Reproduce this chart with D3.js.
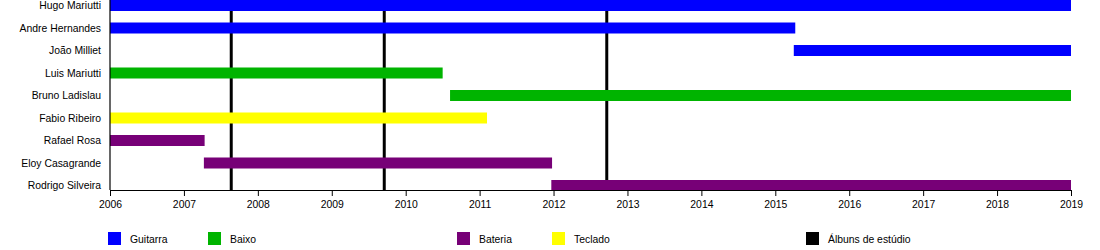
<!DOCTYPE html>
<html>
<head>
<meta charset="utf-8">
<script src="https://cdn.jsdelivr.net/npm/d3@7"></script>
<style>
  body { margin: 0; background: #fff; }
  text { font-family: "Liberation Sans", Arial, sans-serif; font-size: 10.4px; fill: #000; }
</style>
</head>
<body>
<div class="chart"></div>
<script>
const members = ['Hugo Mariutti', 'Andre Hernandes', 'João Milliet', 'Luis Mariutti', 'Bruno Ladislau',
  'Fabio Ribeiro', 'Rafael Rosa', 'Eloy Casagrande', 'Rodrigo Silveira'];
const instruments = ['Guitarra', 'Guitarra', 'Guitarra', 'Baixo', 'Baixo', 'Teclado', 'Bateria', 'Bateria', 'Bateria'];
const starts = [2006, 2006, 2015.25, 2006, 2010.6, 2006, 2006, 2007.27, 2011.97];
const ends = [2019, 2015.27, 2019, 2010.5, 2019, 2011.1, 2007.28, 2011.98, 2019];
const albums = [2007.64, 2009.71, 2012.72];
const years = d3.range(2006, 2020);
const legendLabels = ['Guitarra', 'Baixo', 'Bateria', 'Teclado', 'Álbuns de estúdio'];
const colors = { 'Guitarra': '#0000ff', 'Baixo': '#00b400', 'Bateria': '#770077', 'Teclado': '#ffff00', 'Álbuns de estúdio': '#000000' };

const width = 1100;
const height = 250;
const left = 110;
const right = 1071;
const axisY = 190;

const svg = d3.select('.chart')
  .append('svg')
  .attr('width', width)
  .attr('height', height);

const xScale = d3.scaleLinear()
  .domain([2006, 2019])
  .range([left, right]);

const yScale = d3.scaleBand()
  .domain(members)
  .range([-5.75, 196.75]);

// album lines sit behind the bars
svg.selectAll('line.album')
  .data(albums)
  .enter()
  .append('line')
  .attr('class', 'album')
  .attr('x1', d => xScale(d))
  .attr('x2', d => xScale(d))
  .attr('y1', 0)
  .attr('y2', axisY)
  .attr('stroke', '#000')
  .attr('stroke-width', 3);

const barH = 11;
svg.selectAll('rect.bar')
  .data(members)
  .enter()
  .append('rect')
  .attr('class', 'bar')
  .attr('x', (d, i) => xScale(starts[i]))
  .attr('y', d => yScale(d) + yScale.bandwidth() / 2 - barH / 2)
  .attr('width', (d, i) => xScale(ends[i]) - xScale(starts[i]))
  .attr('height', barH)
  .attr('fill', (d, i) => colors[instruments[i]]);

svg.selectAll('text.name')
  .data(members)
  .enter()
  .append('text')
  .attr('class', 'name')
  .attr('x', left - 9)
  .attr('y', d => yScale(d) + yScale.bandwidth() / 2)
  .attr('dy', '0.35em')
  .attr('text-anchor', 'end')
  .text(d => d);

const xAxis = svg.append('g')
  .attr('transform', `translate(0,${axisY})`)
  .call(d3.axisBottom(xScale).tickValues(years).tickFormat(d3.format('d')).tickSize(6).tickSizeOuter(0).tickPadding(5));
xAxis.select('.domain').attr('stroke', '#000').attr('stroke-width', 1.2);
xAxis.selectAll('.tick line').attr('stroke', '#000');
xAxis.selectAll('.tick text').style('font-family', '"Liberation Sans", Arial, sans-serif').style('font-size', '10.4px').attr('fill', '#000');

svg.append('line')
  .attr('x1', left)
  .attr('x2', left)
  .attr('y1', 0)
  .attr('y2', axisY)
  .attr('stroke', '#000')
  .attr('stroke-width', 1.2);

// legend columns
const legendX = [108, 208, 457, 552, 806];
const legend = svg.selectAll('g.legend')
  .data(legendLabels)
  .enter()
  .append('g')
  .attr('class', 'legend')
  .attr('transform', (d, i) => `translate(${legendX[i]},232)`);

legend.append('rect')
  .attr('width', 13)
  .attr('height', 13)
  .attr('fill', d => colors[d]);

legend.append('text')
  .attr('x', 22)
  .attr('y', 7)
  .attr('dy', '0.35em')
  .text(d => d);
</script>
</body>
</html>
